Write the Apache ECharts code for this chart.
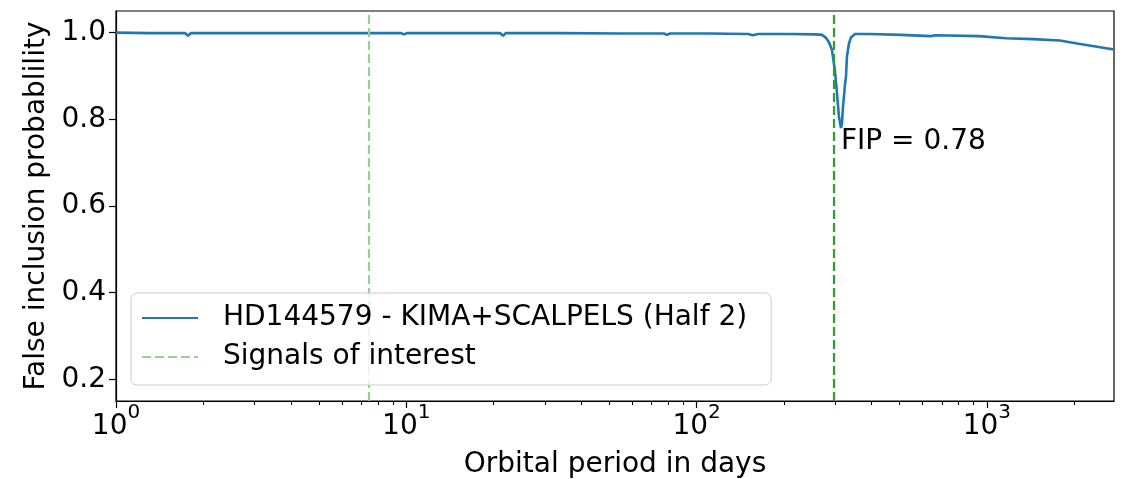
<!DOCTYPE html>
<html>
<head>
<meta charset="utf-8">
<title>False inclusion probability – HD144579</title>
<script src="https://cdn.jsdelivr.net/npm/echarts@6/dist/echarts.min.js"></script>
<style>
  html, body { margin: 0; padding: 0; background: #fff; }
  #chart { width: 1128px; height: 479px; }
</style>
</head>
<body>
<div id="chart"></div>
<script>
// Orbital periods (days) of the FIP curve
const periods = [
  1.0, 1.31, 1.729, 1.77, 1.813, 2.894, 4.30, 6.40, 9.59, 9.82, 10.06,
  14.15, 21.03, 21.54, 22.05, 33.84, 54.5, 77.2, 79.1, 81.0, 111.2,
  150.3, 156.4, 162.7, 209.8, 255.8, 270.4, 279.1, 285.7, 292.5, 299.3,
  304.4, 309.3, 314.3, 316.8, 319.4, 324.5, 327.1, 329.6, 334.9, 340.3,
  351.3, 395.6, 506, 642, 662.6, 939, 1164, 1441, 1785, 2045, 2741
];
// False inclusion probability at each period
const fip = [
  1.0, 0.999, 0.999, 0.993, 0.999, 0.999, 0.999, 0.999, 0.999, 0.996, 0.999,
  0.999, 0.999, 0.993, 0.999, 0.999, 0.998, 0.998, 0.995, 0.998, 0.998,
  0.997, 0.994, 0.997, 0.997, 0.996, 0.995, 0.988, 0.978, 0.961, 0.915,
  0.862, 0.806, 0.78, 0.79, 0.829, 0.88, 0.899, 0.945, 0.975, 0.989,
  0.997, 0.997, 0.995, 0.992, 0.994, 0.992, 0.987, 0.985, 0.982, 0.975, 0.961
];
// Periods of the signals of interest
const signalPeriods = [7.44, 297];
const signalColors = ['#96d096', '#2ca02c'];

// Axis ticks
const yTicks = [0.2, 0.4, 0.6, 0.8, 1.0];
const xMajorTicks = [1, 10, 100, 1000];
const xMinorTicks = [2, 3, 4, 5, 6, 7, 8, 9, 20, 30, 40, 50, 60, 70, 80, 90,
                     200, 300, 400, 500, 600, 700, 800, 900, 2000];

const seriesName = 'HD144579 - KIMA+SCALPELS (Half 2)';
const signalName = 'Signals of interest';

const FONT = 'DejaVu Sans';
const X_MIN = 1, X_MAX = 2741;

const curve = periods.map((p, i) => [p, fip[i]]);
let minIdx = 0;
fip.forEach((v, i) => { if (v < fip[minIdx]) minIdx = i; });

const chart = echarts.init(document.getElementById('chart'), null, { renderer: 'canvas' });

chart.setOption({
  animation: false,
  backgroundColor: '#ffffff',
  textStyle: { fontFamily: FONT, color: '#000' },
  grid: {
    left: 116, right: 14, top: 11, bottom: 78,
    outerBoundsMode: 'none',
    show: true, borderColor: '#000', borderWidth: 1.2, backgroundColor: 'transparent'
  },
  legend: {
    orient: 'vertical',
    left: 131, top: 293,
    zlevel: 1,
    padding: [9, 24, 12, 10],
    itemWidth: 56, itemHeight: 14, itemGap: 7,
    backgroundColor: 'rgba(255,255,255,0.8)',
    borderColor: '#cccccc', borderWidth: 1, borderRadius: 6,
    itemStyle: { opacity: 0 },
    data: [seriesName, signalName],
    textStyle: { fontFamily: FONT, fontSize: 28, color: '#000', lineHeight: 32, padding: [0, 0, 0, 20] }
  },
  xAxis: [
    {
      type: 'log', logBase: 10, min: X_MIN, max: X_MAX,
      name: 'Orbital period in days', nameLocation: 'middle', nameGap: 50,
      nameTextStyle: { fontFamily: FONT, fontSize: 28, color: '#000' },
      axisLine: { show: true, onZero: false, lineStyle: { color: '#000', width: 1.2 } },
      axisTick: { show: true, inside: false, length: 7, customValues: xMajorTicks,
                  lineStyle: { color: '#000', width: 1.2 } },
      axisLabel: {
        customValues: xMajorTicks, margin: 2,
        formatter: v => '{b|10}{s|' + Math.round(Math.log10(v)) + '}',
        rich: {
          b: { fontFamily: FONT, fontSize: 28, color: '#000' },
          s: { fontFamily: FONT, fontSize: 20, color: '#000', padding: [0, 0, 27, 0] }
        }
      },
      splitLine: { show: false }
    },
    {
      type: 'log', logBase: 10, min: X_MIN, max: X_MAX, position: 'bottom',
      axisLine: { show: false },
      axisTick: { show: true, inside: false, length: 4, customValues: xMinorTicks,
                  lineStyle: { color: '#000', width: 1 } },
      axisLabel: { show: false },
      splitLine: { show: false }
    }
  ],
  yAxis: {
    type: 'value', min: 0.15, max: 1.05,
    name: 'False inclusion probablility', nameLocation: 'middle', nameGap: 61,
    nameTextStyle: { fontFamily: FONT, fontSize: 28, color: '#000' },
    axisLine: { show: true, lineStyle: { color: '#000', width: 1.2 } },
    axisTick: { show: true, inside: false, length: 7, customValues: yTicks,
                lineStyle: { color: '#000', width: 1.2 } },
    axisLabel: { customValues: yTicks, margin: 10, fontFamily: FONT, fontSize: 28, color: '#000',
                 formatter: v => v.toFixed(1) },
    splitLine: { show: false }
  },
  series: [
    {
      name: seriesName,
      type: 'line',
      xAxisIndex: 0,
      data: curve,
      symbol: 'none',
      smooth: false,
      color: '#1f77b4',
      lineStyle: { color: '#1f77b4', width: 2.6 },
      z: 2,
      markPoint: {
        silent: true,
        symbol: 'circle', symbolSize: 0,
        data: [{ coord: curve[minIdx], value: fip[minIdx] }],
        label: {
          show: true, position: 'right', distance: 0, offset: [0, 14],
          fontFamily: FONT, fontSize: 28, color: '#000',
          formatter: p => 'FIP = ' + p.value.toFixed(2)
        }
      }
    },
    {
      name: signalName,
      type: 'line',
      xAxisIndex: 0,
      data: [],
      symbol: 'none',
      color: signalColors[0],
      lineStyle: { color: signalColors[0], width: 2.2, type: [9, 4] },
      z: 3,
      markLine: {
        silent: true,
        symbol: ['none', 'none'],
        label: { show: false },
        animation: false,
        data: signalPeriods.map((p, i) => ({
          xAxis: p,
          lineStyle: { color: signalColors[i], width: 2.2, type: [9, 4] }
        }))
      }
    }
  ]
});
</script>
</body>
</html>
